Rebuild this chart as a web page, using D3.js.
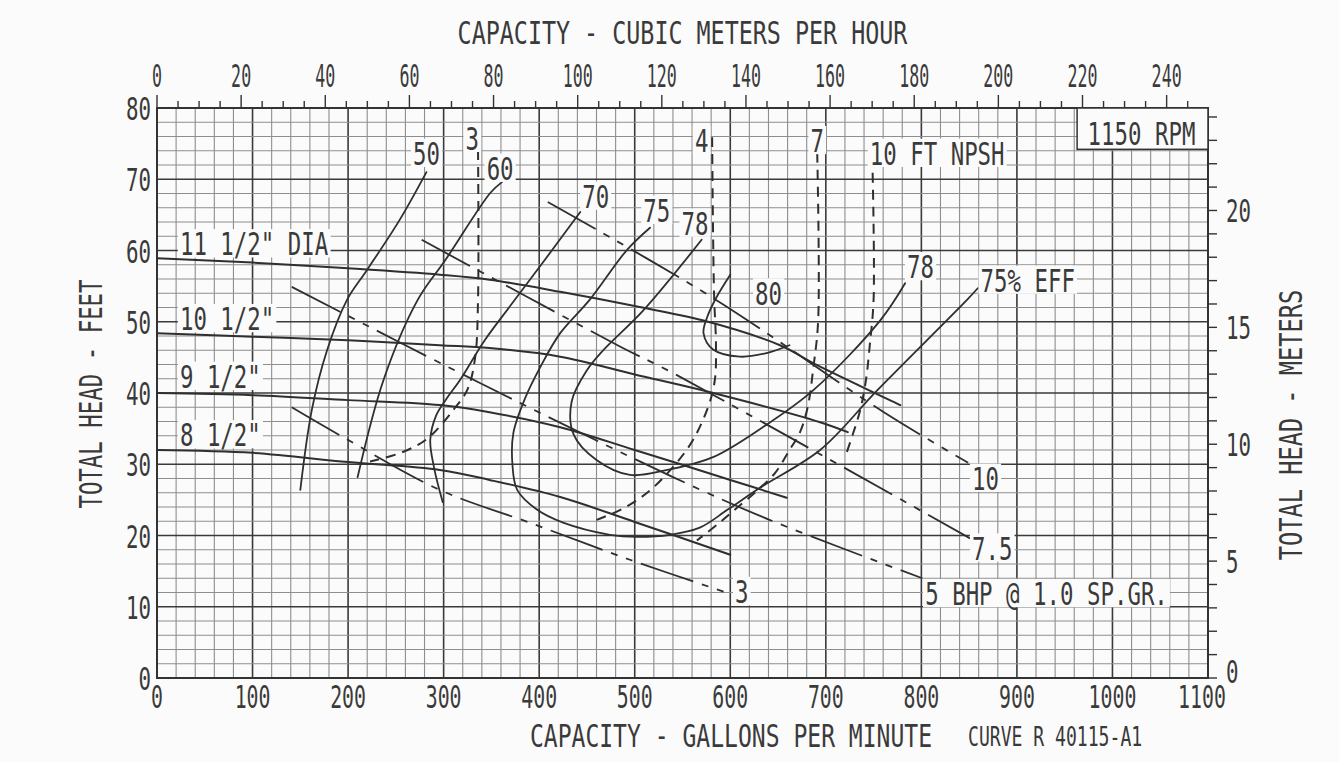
<!DOCTYPE html>
<html><head><meta charset="utf-8">
<script src="https://cdn.jsdelivr.net/npm/d3@7"></script>
<style>
html,body{margin:0;padding:0;background:#fbfbfb;}
svg{display:block;}
text{font-family:"DejaVu Sans Mono","Liberation Mono",monospace;fill:#3a3a3a;}
</style></head>
<body>
<script>
// ---------- DATA (gpm, feet) ----------
const gpmTicks = [0,100,200,300,400,500,600,700,800,900,1000,1100];
const feetTicks = [0,10,20,30,40,50,60,70,80];
const m3hTicks = [0,20,40,60,80,100,120,140,160,180,200,220,240];
const meterTicks = [0,5,10,15,20];

const diaLabels = ['11 1/2" DIA','10 1/2"','9 1/2"','8 1/2"'];
const head115 = [[0,58.9],[100,58.3],[200,57.5],[296,56.6],[348,55.9],[422,54.2],[500,52.2],[571,50.2],[652,46.7],[691,43.9],[778,38.3]];
const head105 = [[0,48.4],[100,47.9],[200,47.4],[296,46.7],[348,46.3],[422,45.1],[500,42.6],[579,40.1],[694,35.9],[723,34.5]];
const head95  = [[0,40.0],[100,39.7],[200,39.0],[296,38.3],[348,37.3],[422,35.2],[500,32.0],[600,27.8],[659,25.3]];
const head85  = [[0,32.0],[100,31.6],[200,30.3],[296,29.2],[348,27.8],[422,25.4],[500,21.9],[600,17.3]];

const eff50 = [[150,26.4],[162,37.6],[178,46.0],[199,53.1],[220,57.3],[254,64.3],[282,71.0]];
const eff60 = [[210,28.2],[237,41.8],[273,53.1],[302,58.7],[349,68.1],[361,69.6]];
const eff70 = [[299,24.7],[290,29.5],[286,33.4],[292,36.8],[303,39.2],[317,41.8],[343,47.4],[369,52.1],[406,58.7],[443,65.4]];
const eff75 = [[516,63.2],[492,60.1],[453,53.1],[422,48.4],[401,43.6],[386,39.5],[373,34.4],[372,30.0],[377,26.4],[398,23.6],[425,21.8],[474,20.1],[502,19.8],[537,20.1],[568,21.1],[597,23.6],[631,26.7],[694,32.0],[754,40.4],[848,53.1],[859,54.7]];
const eff78 = [[570,61.5],[509,51.6],[467,46.0],[450,43.2],[434,38.8],[436,34.2],[460,30.6],[495,28.5],[534,29.2],[582,31.0],[634,35.2],[687,40.4],[757,50.2],[783,55.4]];
const eff80 = [[600,56.6],[585,53.3],[576,50.7],[572,48.4],[582,46.1],[610,45.1],[638,45.6],[662,46.7]];

const bhp10 = [[409,66.8],[580,53.5],[762,37.2],[849,30.2]];
const bhp75 = [[277,61.5],[485,46.5],[540,42.8],[851,19.6]];
const bhp5  = [[141,54.9],[338,41.4],[540,28.2],[641,22.2],[801,14.0]];
const bhp3  = [[141,38.0],[191,34.1],[296,26.4],[390,21.8],[495,16.6],[598,11.9]];

const npsh3  = [[336,74.1],[336,53.1],[333,45.0],[325,40.5],[310,37.6],[283,33.6],[255,31.6],[223,30.4]];
const npsh4  = [[581,75.9],[583,54.0],[585,47.0],[584,42.0],[578,38.5],[561,33.4],[540,29.6],[513,26.0],[485,23.6],[460,22.2]];
const npsh7  = [[691,73.7],[692,50.2],[687,43.6],[681,38.0],[673,34.5],[662,32.0],[647,28.8],[629,26.4],[608,24.0],[587,21.6],[565,19.3]];
const npsh10 = [[749,70.9],[750,53.1],[746,46.7],[742,41.8],[736,37.6],[728,34.1],[722,31.7]];

// annotation anchors (gpm, ft) and texts
const annTexts = ['11 1/2" DIA','10 1/2"','9 1/2"','8 1/2"','50','3','60','70','75','78','4','7','80','10 FT NPSH','78','75% EFF','10','7.5','5 BHP @ 1.0 SP.GR.','3'];
const annGpm   = [24,24,24,24,268,323,345,445,509,549,563,684,626,746,785,862,853,853,804,605];
const annFt    = [59.3,48.8,40.7,32.5,72.0,74.1,69.9,66.0,64.0,62.2,73.8,73.8,52.4,72.0,56.1,54.2,26.4,16.6,10.2,10.5];

const GPM_TO_M3H = 0.22712, FT_TO_M = 0.3048;

// ---------- SVG ----------
const W = 1339, H = 762;
const svg = d3.select('body').append('svg').attr('width', W).attr('height', H);
svg.append('rect').attr('width', W).attr('height', H).attr('fill', '#fbfbfb');

const L = 157, R = 1208, T = 108, B = 678;
const x = d3.scaleLinear().domain([0,1100]).range([L,R]);
const y = d3.scaleLinear().domain([0,80]).range([B,T]);
const xTop = d3.scaleLinear().domain([0,1100*GPM_TO_M3H]).range([L,R]);
const yR = d3.scaleLinear().domain([0,80*FT_TO_M]).range([B,T]);

// grid
const grid = svg.append('g');
d3.range(0,1101,20).forEach(v => {
  const major = v % 100 === 0;
  grid.append('line').attr('x1', x(v)).attr('x2', x(v)).attr('y1', T).attr('y2', B)
    .attr('stroke', major ? '#3a3a3a' : '#8e8e8e').attr('stroke-width', major ? 1.6 : 1.1);
});
d3.range(0,81,2).forEach(v => {
  const major = v % 10 === 0;
  grid.append('line').attr('y1', y(v)).attr('y2', y(v)).attr('x1', L).attr('x2', R)
    .attr('stroke', major ? '#3a3a3a' : '#8e8e8e').attr('stroke-width', major ? 1.6 : 1.1);
});
svg.append('rect').attr('x', L).attr('y', T).attr('width', R-L).attr('height', B-T)
  .attr('fill', 'none').attr('stroke', '#333').attr('stroke-width', 2);

// top ticks (m3/h)
d3.range(0,246,5).forEach(v => {
  const major = v % 20 === 0;
  svg.append('line').attr('x1', xTop(v)).attr('x2', xTop(v)).attr('y1', T).attr('y2', T - (major ? 13 : 7))
    .attr('stroke', '#333').attr('stroke-width', 1.4);
});
// right ticks (m)
d3.range(0,25,1).forEach(v => {
  svg.append('line').attr('y1', yR(v)).attr('y2', yR(v)).attr('x1', R).attr('x2', R + 9)
    .attr('stroke', '#333').attr('stroke-width', 1.4);
});

// text helper
function label(px, py, s, o = {}) {
  const sx = o.sx || 0.70, size = o.size || 32;
  const g = svg.append('g').attr('transform', `translate(${px},${py})${o.rot ? ` rotate(${o.rot})` : ''} scale(${sx},1)`);
  const t = g.append('text').attr('text-anchor', o.anchor || 'start').attr('font-size', size).text(s);
  if (o.bg) {
    const bb = t.node().getBBox();
    g.insert('rect', 'text').attr('x', bb.x - 3).attr('width', bb.width + 6)
      .attr('y', -size * 0.73 - 3).attr('height', size * 0.73 + 5).attr('fill', '#fbfbfb');
  }
  return g;
}

// axis labels
label((L+R)/2, 44, 'CAPACITY - CUBIC METERS PER HOUR', {anchor:'middle', sx:0.73});
m3hTicks.forEach(v => label(xTop(v), 87, String(v), {anchor:'middle', sx:0.52}));
feetTicks.forEach(v => label(151, y(v) + 12, String(v), {anchor:'end', sx:0.65}));
meterTicks.forEach(v => label(1226, v === 0 ? yR(v) + 5 : yR(v) + 12, String(v), {anchor:'start', sx:0.65}));
gpmTicks.forEach(v => label(v === 1100 ? x(v) - 6 : x(v), 708, String(v), {anchor:'middle', sx:0.62}));
label(731, 747, 'CAPACITY - GALLONS PER MINUTE', {anchor:'middle', sx:0.72});
label(968, 746, 'CURVE R 40115-A1', {anchor:'start', sx:0.67, size:27});
label(102, 394, 'TOTAL HEAD - FEET', {anchor:'middle', rot:-90, sx:0.70});
label(1302, 425, 'TOTAL HEAD - METERS', {anchor:'middle', rot:-90, sx:0.74});

// curves
const line = d3.line().x(d => x(d[0])).y(d => y(d[1])).curve(d3.curveCatmullRom.alpha(0.5));
const curves = svg.append('g').attr('fill', 'none').attr('stroke', '#2f2f2f').attr('stroke-linecap', 'round');
[head115, head105, head95, head85].forEach(d => curves.append('path').attr('d', line(d)).attr('stroke-width', 2));
[eff50, eff60, eff70, eff75, eff78, eff80].forEach(d => curves.append('path').attr('d', line(d)).attr('stroke-width', 1.8));
[bhp10, bhp75, bhp5, bhp3].forEach(d => curves.append('path').attr('d', line(d)).attr('stroke-width', 1.8)
  .attr('stroke-dasharray', '55,9,7,9,7,9').attr('stroke-linecap', 'butt'));
[npsh3, npsh4, npsh7, npsh10].forEach(d => curves.append('path').attr('d', line(d)).attr('stroke-width', 2)
  .attr('stroke-dasharray', '10,7').attr('stroke-linecap', 'butt'));

// RPM box
const rpmG = 963;
svg.append('rect').attr('x', x(rpmG)).attr('y', T).attr('width', R - x(rpmG)).attr('height', y(74.2) - T)
  .attr('fill', '#fbfbfb').attr('stroke', '#333').attr('stroke-width', 1.5);
label(x(974), y(74.8), '1150 RPM', {sx:0.70});

// annotations
annTexts.forEach((s, i) => label(x(annGpm[i]), y(annFt[i]), s, {bg:true, sx:0.70}));
</script>
</body></html>
